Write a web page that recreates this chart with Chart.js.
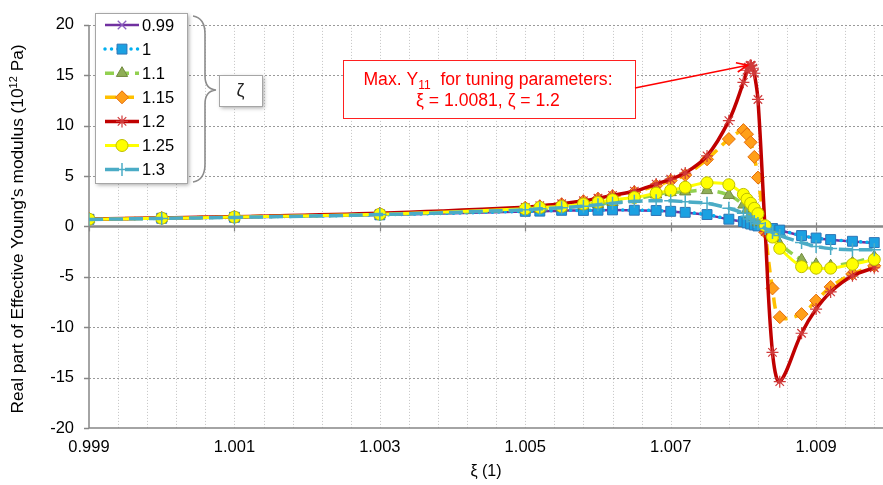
<!DOCTYPE html>
<html>
<head>
<meta charset="utf-8">
<title>Real part of Effective Young's modulus</title>
<script src="https://cdn.jsdelivr.net/npm/chart.js@4.4.1/dist/chart.umd.min.js"></script>
<style>
  html, body { margin: 0; padding: 0; background: #fff; }
  #wrap { width: 883px; height: 485px; }
</style>
</head>
<body>
<div id="wrap"><canvas id="chart" width="883" height="485"></canvas></div>
<script>
// Effective Young's modulus vs. frequency ratio xi, one curve per damping ratio zeta

// xi sample points shared by most curves
const xi = [0.999, 1.000, 1.001, 1.003, 1.005, 1.0052, 1.0055, 1.0058, 1.006, 1.0062, 1.0065,
            1.0068, 1.007, 1.0072, 1.0075, 1.0078, 1.008, 1.00805, 1.0081, 1.00815, 1.0082,
            1.0083, 1.0084, 1.0085, 1.0088, 1.009, 1.0092, 1.0095, 1.0098];
// zeta = 1.2 was refined around its maximum
const xiFine = [0.999, 1.000, 1.001, 1.003, 1.005, 1.0052, 1.0055, 1.0058, 1.006, 1.0062, 1.0065,
                1.0068, 1.007, 1.0072, 1.0075, 1.0078, 1.008, 1.00805, 1.00807, 1.00809, 1.0081,
                1.00811, 1.00813, 1.00815, 1.0082, 1.0083, 1.0084, 1.0085, 1.0088, 1.009, 1.0092,
                1.0095, 1.0098];

const zetaLabels = ['0.99', '1', '1.1', '1.15', '1.2', '1.25', '1.3'];

// Re(Y11) in 10^12 Pa
const y099 = [0.70, 0.80, 0.90, 1.13, 1.48, 1.50, 1.57, 1.57, 1.59, 1.62, 1.59, 1.56, 1.48, 1.38, 1.15,
              0.70, 0.47, 0.33, 0.22, 0.12, 0.03, -0.05, -0.22, -0.38, -0.92, -1.17, -1.33, -1.50, -1.65];
const y100 = [0.71, 0.81, 0.91, 1.15, 1.50, 1.52, 1.60, 1.59, 1.61, 1.64, 1.61, 1.58, 1.50, 1.40, 1.18,
              0.72, 0.49, 0.35, 0.24, 0.14, 0.05, -0.03, -0.20, -0.36, -0.90, -1.15, -1.30, -1.47, -1.60];
const y110 = [0.72, 0.82, 0.93, 1.20, 1.65, 1.75, 1.86, 2.05, 2.20, 2.40, 2.70, 3.15, 3.38, 3.45, 3.58,
              3.10, 2.15, 1.65, 1.20, 0.80, 0.40, -0.30, -1.05, -1.75, -3.30, -3.75, -3.90, -3.60, -3.00];
const y115 = [0.73, 0.83, 0.95, 1.25, 1.85, 2.00, 2.20, 2.50, 2.75, 3.00, 3.40, 4.05, 4.55, 5.10, 6.66,
              8.67, 9.56, 9.15, 8.35, 6.90, 4.85, -0.57, -6.15, -9.00, -8.70, -7.36, -6.00, -4.70, -3.90];
const y120 = [0.75, 0.85, 0.97, 1.30, 1.90, 2.05, 2.25, 2.55, 2.80, 3.08, 3.50, 4.20, 4.70, 5.30, 7.00,
              10.50, 14.30, 15.50, 15.80, 15.95, 16.00, 15.95, 15.70, 15.20, 12.60, -0.50, -12.50,
              -15.40, -10.60, -8.20, -6.50, -4.90, -4.10];
const y125 = [0.72, 0.82, 0.93, 1.22, 1.75, 1.88, 1.98, 2.23, 2.39, 2.65, 2.87, 3.30, 3.57, 3.89, 4.33,
              4.14, 3.18, 2.70, 2.30, 1.80, 1.27, 0.07, -1.05, -2.17, -3.99, -4.14, -4.14, -3.76, -3.28];
const y130 = [0.70, 0.80, 0.90, 1.18, 1.65, 1.75, 1.85, 2.00, 2.15, 2.30, 2.50, 2.55, 2.55, 2.45, 2.30,
              1.80, 1.30, 1.00, 0.75, 0.50, 0.30, -0.20, -0.60, -0.90, -1.60, -2.00, -2.20, -2.30, -2.30];

// axis ranges and ticks
const X_MIN = 0.999, X_MAX = 1.00992, X_GRID_STEP = 0.0004;
const xLabelTicks = ['0.999', '1.001', '1.003', '1.005', '1.007', '1.009'];
const Y_MIN = -20, Y_MAX = 20, Y_STEP = 5;

// maximum of zeta = 1.2
const peakXi = 1.0081, peakY = 16.0;

const FONT = '"Liberation Sans", Arial, Helvetica, sans-serif';

const styles = [
  { line: '#7030A0', width: 2.5, dash: [], point: 'crossRot', r: 6, fill: '#8B5FBF', stroke: '#8B5FBF', bw: 1.3 },
  { line: '#00B0F0', width: 3.5, dash: [0.01, 6.5], cap: 'round', point: 'rect', r: 7, fill: '#1BA1E2', stroke: '#2E75B6', bw: 1 },
  { line: '#92D050', width: 3.5, dash: [9, 6], point: 'triangle', r: 6.5, fill: '#8FAE57', stroke: '#71893F', bw: 1 },
  { line: '#FFC000', width: 3.5, dash: [11, 7], point: 'rectRot', r: 6.5, fill: '#FF9F1A', stroke: '#E46C0A', bw: 1 },
  { line: '#C00000', width: 3.5, dash: [], point: 'star', r: 6, fill: '#D03A3A', stroke: '#D03A3A', bw: 1.2 },
  { line: '#FFFF00', width: 3, dash: [], point: 'circle', r: 6, fill: '#FFFF00', stroke: '#BFBF00', bw: 1 },
  { line: '#4BACC6', width: 3.5, dash: [14, 6], point: 'cross', r: 6.5, fill: '#4BACC6', stroke: '#4BACC6', bw: 1.5 }
];

const seriesY = [y099, y100, y110, y115, y120, y125, y130];
const seriesX = [xi, xi, xi, xi, xiFine, xi, xi];

const datasets = zetaLabels.map((label, i) => {
  const s = styles[i];
  return {
    label: label,
    data: seriesX[i].map((x, k) => ({ x: x, y: seriesY[i][k] })),
    borderColor: s.line,
    borderWidth: s.width,
    borderDash: s.dash,
    borderCapStyle: s.cap || 'butt',
    tension: 0.35,
    pointStyle: s.point,
    pointRadius: s.r,
    pointBackgroundColor: s.fill,
    pointBorderColor: s.stroke,
    pointBorderWidth: s.bw,
    fill: false,
    order: 6 - i
  };
});

function strokeLine(ctx, x1, y1, x2, y2) {
  ctx.beginPath();
  ctx.moveTo(x1, y1);
  ctx.lineTo(x2, y2);
  ctx.stroke();
}

function drawMarker(ctx, s, x, y) {
  ctx.save();
  ctx.fillStyle = s.fill;
  ctx.strokeStyle = s.stroke;
  ctx.lineWidth = s.bw;
  ctx.setLineDash([]);
  if (Chart.helpers && Chart.helpers.drawPoint) {
    Chart.helpers.drawPoint(ctx, { pointStyle: s.point, radius: s.r, borderWidth: s.bw, rotation: 0 }, x, y);
  } else {
    ctx.beginPath();
    ctx.arc(x, y, s.r * 0.8, 0, Math.PI * 2);
    ctx.fill();
    ctx.stroke();
  }
  ctx.restore();
}

function shadowBox(ctx, x, y, w, h, border) {
  ctx.save();
  ctx.shadowColor = 'rgba(0,0,0,0.35)';
  ctx.shadowBlur = 4;
  ctx.shadowOffsetX = 2;
  ctx.shadowOffsetY = 2;
  ctx.fillStyle = '#fff';
  ctx.fillRect(x, y, w, h);
  ctx.restore();
  ctx.save();
  ctx.strokeStyle = border;
  ctx.lineWidth = 1;
  ctx.strokeRect(x + 0.5, y + 0.5, w, h);
  ctx.restore();
}

// text with a raised or lowered small part in the middle
function drawScriptText(ctx, parts, cx, baseY, bigFont, smallFont, shift) {
  ctx.font = bigFont;
  const w1 = ctx.measureText(parts[0]).width, w3 = ctx.measureText(parts[2]).width;
  ctx.font = smallFont;
  const w2 = ctx.measureText(parts[1]).width;
  const tx = cx - (w1 + w2 + w3) / 2;
  ctx.textAlign = 'left';
  ctx.font = bigFont;
  ctx.fillText(parts[0], tx, baseY);
  ctx.font = smallFont;
  ctx.fillText(parts[1], tx + w1, baseY + shift);
  ctx.font = bigFont;
  ctx.fillText(parts[2], tx + w1 + w2, baseY);
}

const decor = {
  id: 'decor',
  beforeDatasetsDraw(chart) {
    const { ctx, chartArea: a, scales: { x, y } } = chart;
    ctx.save();

    // vertical grid
    ctx.strokeStyle = '#C4C4C4';
    ctx.lineWidth = 1;
    ctx.setLineDash([1, 2]);
    for (let k = 1; X_MIN + k * X_GRID_STEP <= X_MAX; k++) {
      const px = Math.round(x.getPixelForValue(X_MIN + k * X_GRID_STEP)) + 0.5;
      strokeLine(ctx, px, a.top, px, a.bottom);
    }

    // horizontal grid
    ctx.strokeStyle = '#9A9A9A';
    ctx.setLineDash([2, 2]);
    for (let v = Y_MIN + Y_STEP; v <= Y_MAX; v += Y_STEP) {
      if (v === 0) continue;
      const py = Math.round(y.getPixelForValue(v)) + 0.5;
      strokeLine(ctx, a.left, py, a.right, py);
    }
    ctx.setLineDash([]);

    // axis lines
    ctx.strokeStyle = '#868686';
    ctx.lineWidth = 1.5;
    strokeLine(ctx, a.left, a.top, a.left, a.bottom);
    strokeLine(ctx, a.left, a.bottom, a.right, a.bottom);
    for (let v = Y_MIN; v <= Y_MAX; v += Y_STEP) {
      const py = Math.round(y.getPixelForValue(v)) + 0.5;
      strokeLine(ctx, a.left - 5, py, a.left, py);
    }

    // zero line with tick marks
    const y0 = y.getPixelForValue(0);
    ctx.lineWidth = 2.5;
    strokeLine(ctx, a.left, y0, a.right, y0);
    ctx.lineWidth = 1.2;
    xLabelTicks.forEach(t => {
      const px = Math.round(x.getPixelForValue(parseFloat(t))) + 0.5;
      strokeLine(ctx, px, y0 - 4, px, y0 + 5);
    });
    ctx.restore();
  },
  afterDraw(chart) {
    const { ctx, scales: { x, y } } = chart;
    ctx.save();

    // y axis title, with the exponent raised
    ctx.save();
    ctx.translate(17.5, 229);
    ctx.rotate(-Math.PI / 2);
    ctx.fillStyle = '#000';
    ctx.textBaseline = 'middle';
    drawScriptText(ctx, ['Real part of Effective Young\'s modulus (10', '12', ' Pa)'], 0, 1,
                   '17.3px ' + FONT, '11px ' + FONT, -5);
    ctx.restore();

    // legend
    const lx = 95, ly = 13, lw = 92, lh = 170;
    shadowBox(ctx, lx, ly, lw, lh, '#A6A6A6');
    ctx.font = '16.5px ' + FONT;
    ctx.textBaseline = 'middle';
    ctx.fillStyle = '#000';
    zetaLabels.forEach((label, i) => {
      const s = styles[i];
      const ey = 25 + i * 24.1;
      ctx.save();
      ctx.strokeStyle = s.line;
      ctx.lineWidth = s.width;
      ctx.setLineDash(s.dash);
      ctx.lineCap = s.cap || 'butt';
      strokeLine(ctx, 105, ey, 139, ey);
      ctx.restore();
      drawMarker(ctx, s, 122, ey);
      ctx.fillText(label, 142, ey + 1);
    });

    // brace grouping the legend entries
    ctx.strokeStyle = '#8C8C8C';
    ctx.lineWidth = 1.6;
    ctx.beginPath();
    ctx.moveTo(193, 16);
    ctx.quadraticCurveTo(205, 18, 205, 34);
    ctx.lineTo(205, 76);
    ctx.quadraticCurveTo(205, 89, 216, 90);
    ctx.quadraticCurveTo(205, 91, 205, 104);
    ctx.lineTo(205, 164);
    ctx.quadraticCurveTo(205, 180, 193, 182);
    ctx.stroke();

    shadowBox(ctx, 219, 75, 43, 31, '#A6A6A6');
    ctx.fillStyle = '#222';
    ctx.font = '18px ' + FONT;
    ctx.textAlign = 'center';
    ctx.fillText('ζ', 240.5, 91);

    // callout for the maximum
    const bx = 343, by = 60, bw = 292, bh = 58;
    ctx.fillStyle = '#fff';
    ctx.fillRect(bx, by, bw, bh);
    ctx.strokeStyle = '#FF2020';
    ctx.lineWidth = 1;
    ctx.strokeRect(bx + 0.5, by + 0.5, bw, bh);

    ctx.fillStyle = '#FF0000';
    ctx.textBaseline = 'alphabetic';
    const cx = bx + bw / 2 - 1;
    drawScriptText(ctx, ['Max. Y', '11', '  for tuning parameters:'], cx, 85,
                   '17.6px ' + FONT, '12px ' + FONT, 4);
    ctx.textAlign = 'center';
    ctx.fillText('ξ = 1.0081, ζ = 1.2', cx, 106);

    // arrow to the peak
    const ax = bx + bw, ay = 88;
    const px = x.getPixelForValue(peakXi) - 3, py = y.getPixelForValue(peakY);
    ctx.strokeStyle = '#FF0000';
    ctx.lineWidth = 1.6;
    strokeLine(ctx, ax, ay, px, py);
    const ang = Math.atan2(py - ay, px - ax);
    ctx.beginPath();
    ctx.moveTo(px - 12 * Math.cos(ang - 0.4), py - 12 * Math.sin(ang - 0.4));
    ctx.lineTo(px, py);
    ctx.lineTo(px - 12 * Math.cos(ang + 0.4), py - 12 * Math.sin(ang + 0.4));
    ctx.stroke();

    ctx.restore();
  }
};

Chart.defaults.font.family = FONT;
Chart.defaults.color = '#000';

new Chart(document.getElementById('chart'), {
  type: 'line',
  data: { datasets: datasets },
  plugins: [decor],
  options: {
    responsive: false,
    animation: false,
    layout: { autoPadding: false, padding: { top: 11, right: 0, left: 0, bottom: 0 } },
    plugins: {
      legend: { display: false },
      tooltip: { enabled: false }
    },
    scales: {
      x: {
        type: 'linear',
        min: X_MIN,
        max: X_MAX,
        grid: { display: false, drawTicks: false },
        border: { display: false },
        afterBuildTicks: (scale) => {
          scale.ticks = xLabelTicks.map(t => ({ value: parseFloat(t) }));
        },
        afterFit: (scale) => { scale.height = 57; scale.paddingLeft = 0; scale.paddingRight = 0; },
        ticks: {
          autoSkip: false,
          maxRotation: 0,
          padding: 10,
          font: { size: 16.5 },
          callback: (v) => xLabelTicks.find(t => Math.abs(parseFloat(t) - v) < 1e-9) || ''
        },
        title: {
          display: true,
          text: 'ξ (1)',
          font: { size: 16 },
          padding: { top: 2, bottom: 4 }
        }
      },
      y: {
        min: Y_MIN,
        max: Y_MAX,
        grid: { display: false, drawTicks: false },
        border: { display: false },
        afterFit: (scale) => { scale.width = 89; },
        ticks: {
          stepSize: Y_STEP,
          padding: 15,
          font: { size: 16.5 }
        }
      }
    }
  }
});
</script>
</body>
</html>
